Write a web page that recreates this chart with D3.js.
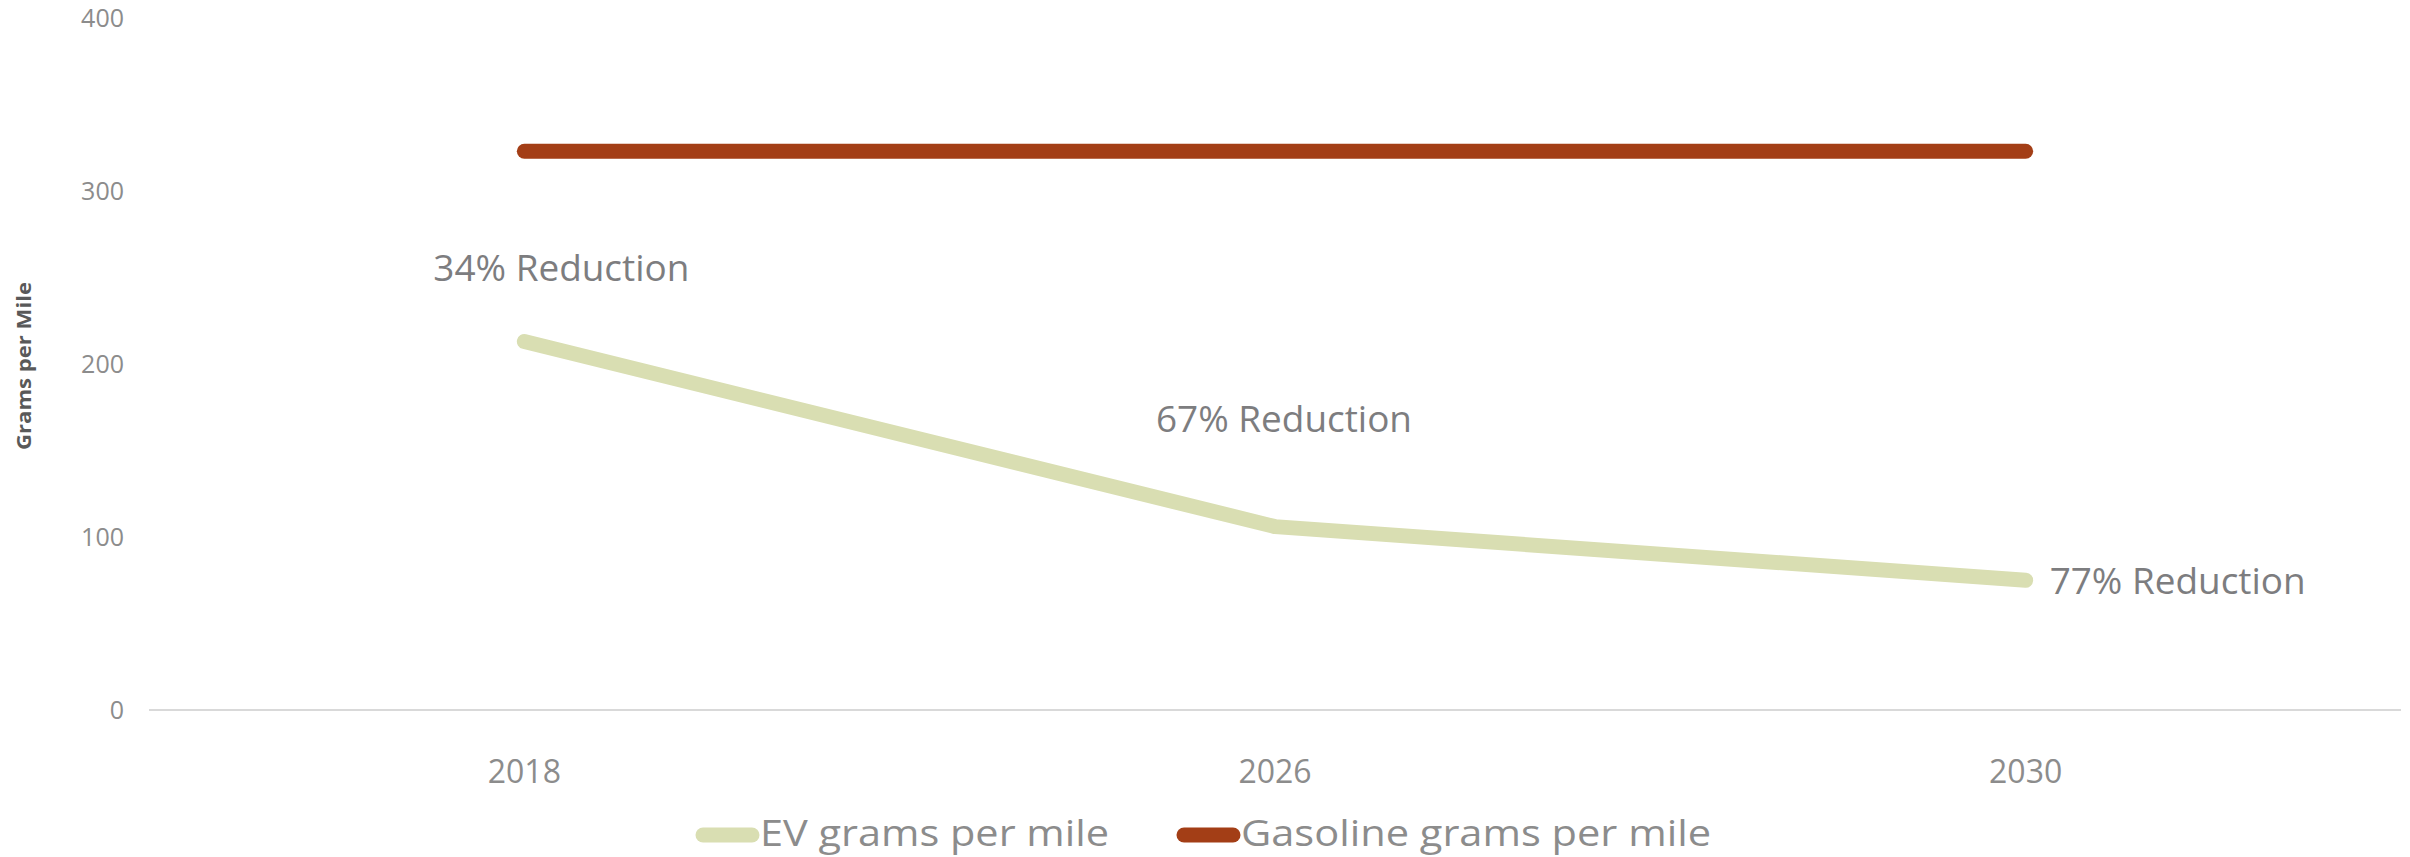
<!DOCTYPE html>
<html>
<head>
<meta charset="utf-8">
<script src="https://cdn.jsdelivr.net/npm/d3@7"></script>
<style>
  html, body { margin: 0; padding: 0; background: #ffffff; }
  svg { display: block; }
  text { font-family: "Open Sans", "Liberation Sans", sans-serif; }
</style>
</head>
<body>
<svg id="chart" width="2410" height="857"></svg>
<script>
// Emissions per mile, EV vs. gasoline
const years = ["2018", "2026", "2030"];
const evGrams = [213, 106, 75];
const gasGrams = [323, 323, 323];
const reductionPct = [34, 67, 77];
const yTicks = [0, 100, 200, 300, 400];
const seriesNames = ["EV grams per mile", "Gasoline grams per mile"];

const colors = { ev: "#d9deb2", gas: "#a33e16", axis: "#d9d9d9", tick: "#8c8c8c", label: "#7d7d7f", title: "#595959" };

const svg = d3.select("#chart");

const x = d3.scaleBand().domain(years).range([149, 2401]);
const y = d3.scaleLinear().domain([0, 400]).range([710, 18]);
const cx = d => x(d) + x.bandwidth() / 2;

// category axis baseline
svg.append("line")
  .attr("x1", x.range()[0]).attr("x2", x.range()[1])
  .attr("y1", y(0)).attr("y2", y(0))
  .attr("stroke", colors.axis).attr("stroke-width", 2);

// value axis labels (no axis line)
const yAxis = d3.axisLeft(y).tickValues(yTicks).tickSize(0).tickPadding(0);
const gy = svg.append("g").attr("transform", "translate(124,0)").call(yAxis);
gy.select(".domain").remove();
gy.selectAll("text")
  .attr("fill", colors.tick)
  .style("font-size", "25px")
  .style("font-family", "'Open Sans', sans-serif");

// category labels
const xAxis = d3.axisBottom(x).tickSize(0).tickPadding(0);
const gx = svg.append("g").attr("transform", "translate(0,760)").call(xAxis);
gx.select(".domain").remove();
gx.selectAll("text")
  .attr("fill", colors.tick)
  .attr("dy", "0.71em")
  .style("font-size", "32px")
  .style("font-family", "'Open Sans', sans-serif");

// axis title
svg.append("text")
  .attr("transform", "translate(31,366) rotate(-90)")
  .attr("text-anchor", "middle")
  .attr("fill", colors.title)
  .attr("font-weight", "bold")
  .attr("font-size", 19)
  .attr("textLength", 168)
  .attr("lengthAdjust", "spacingAndGlyphs")
  .text("Grams per Mile");

const line = d3.line().x(d => cx(d.year)).y(d => y(d.value));

const gasData = years.map((yr, i) => ({ year: yr, value: gasGrams[i] }));
const evData = years.map((yr, i) => ({ year: yr, value: evGrams[i] }));

svg.append("path")
  .datum(gasData)
  .attr("d", line)
  .attr("fill", "none")
  .attr("stroke", colors.gas)
  .attr("stroke-width", 15)
  .attr("stroke-linecap", "round")
  .attr("stroke-linejoin", "round");

svg.append("path")
  .datum(evData)
  .attr("d", line)
  .attr("fill", "none")
  .attr("stroke", colors.ev)
  .attr("stroke-width", 15)
  .attr("stroke-linecap", "round")
  .attr("stroke-linejoin", "round");

// reduction callouts, offset from each EV point
const callout = [
  { dx: 37, dy: -61, anchor: "middle" },
  { dx: 9, dy: -95, anchor: "middle" },
  { dx: 24, dy: 14, anchor: "start" }
];
svg.append("g").selectAll("text")
  .data(evData)
  .join("text")
  .attr("x", (d, i) => cx(d.year) + callout[i].dx)
  .attr("y", (d, i) => y(d.value) + callout[i].dy)
  .attr("text-anchor", (d, i) => callout[i].anchor)
  .attr("fill", colors.label)
  .attr("font-size", 36)
  .attr("textLength", 256)
  .attr("lengthAdjust", "spacingAndGlyphs")
  .text((d, i) => reductionPct[i] + "% Reduction");

// legend
const legendItems = [
  { name: seriesNames[0], color: colors.ev, x0: 696, w: 349 },
  { name: seriesNames[1], color: colors.gas, x0: 1177, w: 470 }
];
const lg = svg.append("g").selectAll("g").data(legendItems).join("g");
lg.append("line")
  .attr("x1", d => d.x0 + 7).attr("x2", d => d.x0 + 56)
  .attr("y1", 835).attr("y2", 835)
  .attr("stroke", d => d.color)
  .attr("stroke-width", 15)
  .attr("stroke-linecap", "round");
lg.append("text")
  .attr("x", d => d.x0 + 64)
  .attr("y", 846)
  .attr("fill", colors.tick)
  .attr("font-size", 36)
  .attr("textLength", d => d.w)
  .attr("lengthAdjust", "spacingAndGlyphs")
  .text(d => d.name);
</script>
</body>
</html>
